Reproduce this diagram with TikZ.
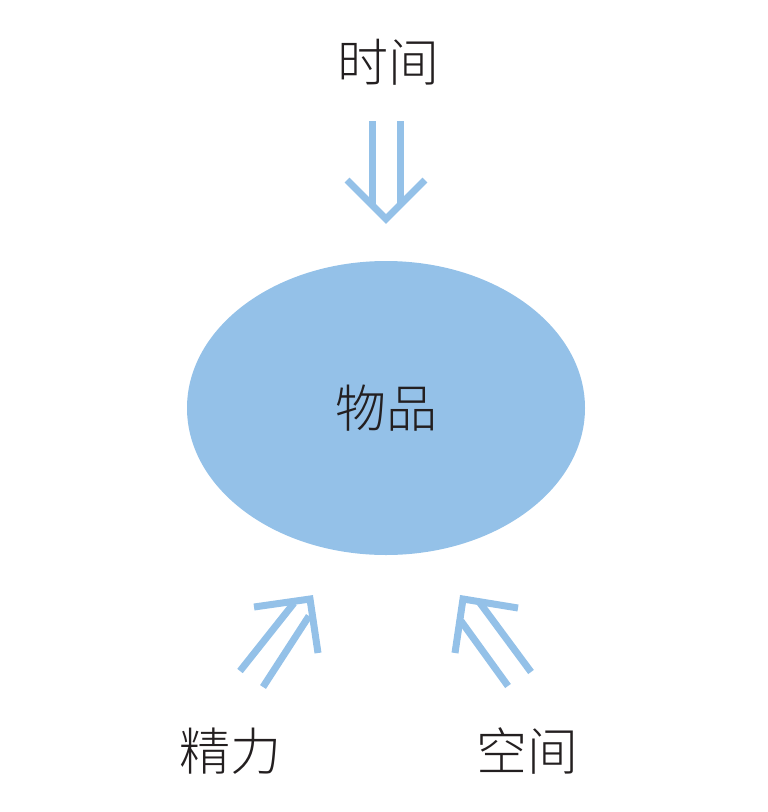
\documentclass[tikz,border=0pt]{standalone}
\usepackage{fontspec}
\usetikzlibrary{shapes.geometric}
\newfontfamily\cjk{Noto Sans CJK SC Light}
\definecolor{blu}{HTML}{94C1E8}
\definecolor{txt}{HTML}{231F20}
\begin{document}
\begin{tikzpicture}[x=1pt,y=-1pt,
  lbl/.style={font=\cjk\fontsize{51}{60}\selectfont, text=txt, inner sep=0pt},
  arr/.style={draw=blu, line width=7pt, line cap=butt, line join=miter}]
\useasboundingbox (0,0) rectangle (768,812);
\node[ellipse, fill=blu, minimum width=398pt, minimum height=294pt, inner sep=0pt] (obj) at (386,408) {};
\node[lbl] (t1) at (388,62) {时间};
\node[lbl] at (obj.center) {物品};
\node[lbl] (t2) at (230,751) {精力};
\node[lbl] (t3) at (527,751) {空间};
% top arrow
\draw[arr] (372,121) -- (372,205);
\draw[arr] (400,121) -- (400,205);
\draw[arr] (347,180) -- (386,219) -- (425,180);
% bottom-left arrow
\draw[arr] (240,671) -- (294,603);
\draw[arr] (263,687) -- (309,616);
\draw[arr] (254,607) -- (310,599) -- (318,653);
% bottom-right arrow
\draw[arr] (508,686) -- (461,621);
\draw[arr] (531,672) -- (480,603);
\draw[arr] (518,608) -- (463,599) -- (455,653);
\end{tikzpicture}
\end{document}
